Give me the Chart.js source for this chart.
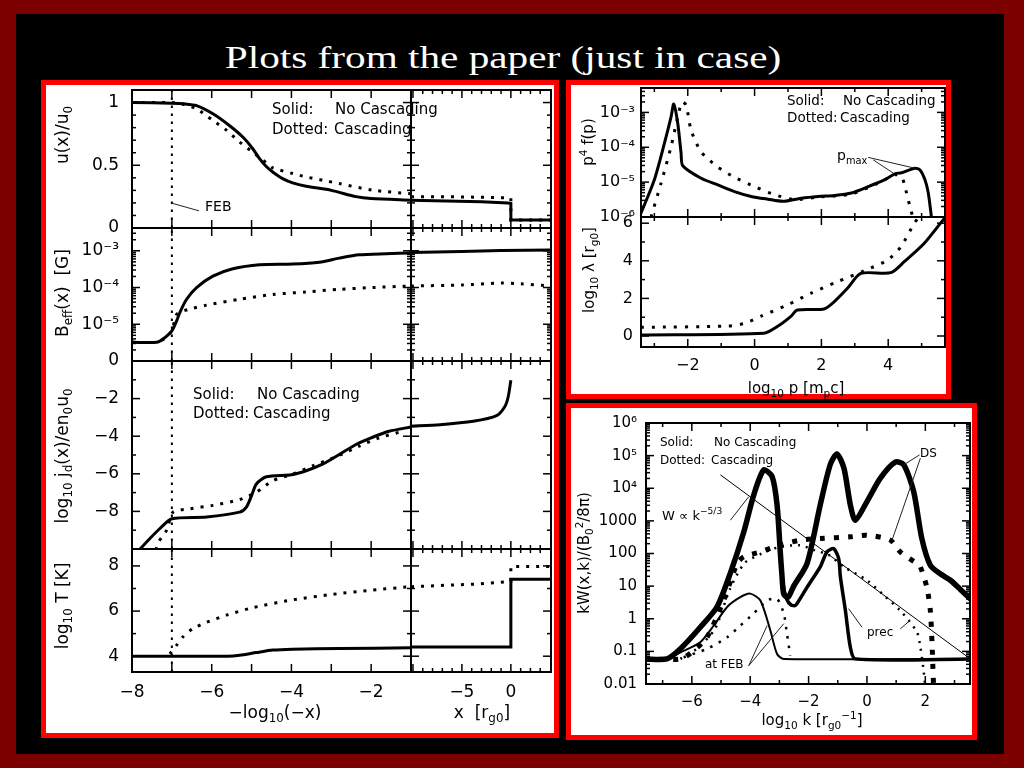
<!DOCTYPE html>
<html><head><meta charset="utf-8">
<script src="https://cdn.jsdelivr.net/npm/chart.js@4.4.1/dist/chart.umd.min.js"></script>
<style>
html,body{margin:0;padding:0;}
body{width:1024px;height:768px;background:#7d0000;position:relative;overflow:hidden;font-family:"DejaVu Sans",sans-serif;}
#inner{position:absolute;left:16px;top:14px;width:988px;height:740px;background:#000;}
#title{position:absolute;left:503px;top:57px;color:#fff;font-family:"Liberation Serif",serif;font-size:31px;white-space:nowrap;line-height:1;transform:translate(-50%,-50%) scaleX(1.33);}
.panel{position:absolute;background:#fff;border:5px solid #f00;box-sizing:border-box;}
canvas{position:absolute;}
.t{position:absolute;color:#000;white-space:pre;line-height:1;transform:translateY(-50%);}
.yt{position:absolute;color:#000;white-space:pre;font-size:17px;line-height:1;transform:translate(-50%,-50%) rotate(-90deg);}
.xt{position:absolute;color:#000;white-space:pre;font-size:17px;line-height:1;transform:translate(-50%,-50%);}
sub,sup{font-size:70%;line-height:0;}
</style></head>
<body>
<div id="inner"></div>
<div id="title">Plots from the paper (just in case)</div>
<div class="panel" style="left:41px;top:80px;width:518px;height:658px;"></div>
<div class="panel" style="left:566px;top:80px;width:385px;height:319px;"></div>
<div class="panel" style="left:566px;top:403px;width:411px;height:337px;"></div>
<script>
// ---------------- DATA ----------------
const FEB_X = -7;
// u(x)/u0 : left column (x = -log10(-x)), right column (x in r_g0)
const uSolL_x = [-8, -7, -6.7, -6.38, -5.97, -5.55, -5.22, -4.97, -4.8, -4.63, -4.47, -4.22, -3.97, -3.63, -3.0, -2.38, -2.0, -1.0];
const uSolL_y = [1.0, 0.995, 0.99, 0.975, 0.91, 0.815, 0.725, 0.632, 0.553, 0.49, 0.447, 0.394, 0.36, 0.333, 0.30, 0.25, 0.235, 0.222];
const uDotL_x = [-8, -7, -6.7, -6.38, -5.97, -5.63, -5.3, -4.97, -4.63, -4.47, -3.97, -3.63, -3.22, -2.8, -1.97, -1.0];
const uDotL_y = [1.0, 1.0, 0.985, 0.95, 0.857, 0.78, 0.685, 0.605, 0.52, 0.48, 0.434, 0.407, 0.381, 0.354, 0.302, 0.272];
const uSolR_x = [-10.2, -3, -0.3, 0, 0, 4.1];
const uSolR_y = [0.222, 0.21, 0.2, 0.196, 0.063, 0.063];
const uDotR_x = [-10.2, -5, -0.3, 0, 0, 4.1];
const uDotR_y = [0.25, 0.248, 0.24, 0.238, 0.063, 0.063];
// log10 B_eff [G]
const bSolL_x = [-8, -7.38, -7.22, -7.0, -6.88, -6.8, -6.63, -6.38, -5.97, -5.47, -4.8, -3.97, -3.3, -2.8, -2.3, -1.63, -1.0];
const bSolL_y = [-5.49, -5.49, -5.4, -5.18, -4.91, -4.68, -4.32, -4.0, -3.69, -3.49, -3.38, -3.36, -3.31, -3.2, -3.11, -3.08, -3.06];
const bDotL_x = [-8, -7.38, -7.2, -7.0, -6.88, -6.6, -6.13, -5.3, -4.47, -3.63, -2.8, -1.97, -1.0];
const bDotL_y = [-5.49, -5.49, -5.4, -5.18, -4.73, -4.6, -4.48, -4.32, -4.19, -4.12, -4.05, -4.0, -3.96];
const bSolR_x = [-10.2, -5, -1, 4.1];
const bSolR_y = [-3.05, -3.02, -2.99, -2.98];
const bDotR_x = [-10.2, -5, -1, 1, 4.1];
const bDotR_y = [-3.96, -3.93, -3.88, -3.9, -3.96];
// log10 j_d/(e n0 u0)
const jSolL_x = [-7.82, -7.55, -7.3, -7.0, -6.13, -5.3, -5.13, -5.0, -4.88, -4.63, -4.0, -3.63, -3.22, -2.8, -2.38, -2.0, -1.55, -1.0];
const jSolL_y = [-10.05, -9.44, -8.91, -8.39, -8.3, -8.04, -7.77, -7.16, -6.54, -6.16, -6.05, -5.84, -5.49, -4.97, -4.44, -4.09, -3.74, -3.51];
const jDotL_x = [-7.4, -7.33, -7.13, -6.97, -6.55, -5.97, -5.3, -4.88, -4.47, -3.97, -3.47, -2.8, -2.3, -1.8, -1.3];
const jDotL_y = [-10.05, -9.62, -9.0, -8.04, -7.86, -7.68, -7.37, -6.98, -6.37, -6.02, -5.58, -5.02, -4.53, -4.09, -3.79];
const jSolR_x = [-10.2, -7.24, -3.85, -1.46, -0.61, -0.27, 0];
const jSolR_y = [-3.47, -3.39, -3.21, -2.91, -2.42, -1.9, -1.02];
// log10 T [K]
const tSolL_x = [-8, -5.6, -5.3, -4.88, -4.47, -3.97, -2.8, -1.0];
const tSolL_y = [4.0, 4.0, 4.04, 4.16, 4.27, 4.31, 4.34, 4.37];
const tDotL_x = [-7.05, -6.88, -6.72, -6.47, -6.13, -5.63, -4.97, -4.0, -2.97, -1.97, -1.0];
const tDotL_y = [4.1, 4.49, 4.86, 5.23, 5.5, 5.82, 6.15, 6.49, 6.74, 6.93, 7.08];
const tSolR_x = [-10.2, 0, 0, 4.1];
const tSolR_y = [4.41, 4.41, 7.41, 7.41];
const tDotR_x = [-10.2, -3.85, -0.44, 0, 0, 4.1];
const tDotR_y = [7.08, 7.19, 7.3, 7.32, 7.97, 7.97];
// log10 p^4 f(p) vs log10 p
const fSol_x = [-3.4, -3.0, -2.7, -2.5, -2.42, -2.3, -2.2, -2.15, -1.6, -1.1, -0.6, -0.1, 0.4, 0.85, 1.4, 1.9, 2.4, 2.9, 3.4, 3.9, 4.2, 4.4, 4.8, 4.95, 5.1, 5.2, 5.3];
const fSol_y = [-5.89, -4.93, -3.89, -3.13, -2.76, -3.31, -4.17, -4.53, -4.89, -5.08, -5.27, -5.41, -5.49, -5.55, -5.46, -5.41, -5.38, -5.31, -5.13, -4.93, -4.76, -4.73, -4.6, -4.65, -4.93, -5.31, -6.05];
const fDot_x = [-3.1, -2.8, -2.5, -2.3, -2.17, -2.05, -1.9, -1.6, -1.1, -0.6, 0.0, 0.6, 1.2, 1.9, 2.9, 3.7, 4.2, 4.4, 4.5, 4.65, 4.75];
const fDot_y = [-6.0, -5.03, -3.98, -3.13, -2.7, -2.79, -3.51, -4.13, -4.57, -4.86, -5.13, -5.36, -5.5, -5.43, -5.34, -5.03, -4.79, -4.84, -5.13, -5.7, -6.05];
// log10 lambda [r_g0]
const lSol_x = [-3.4, 0.28, 0.68, 1.08, 1.28, 2.08, 2.38, 2.78, 3.18, 4.08, 4.48, 5.08, 5.68];
const lSol_y = [0.05, 0.14, 0.5, 1.03, 1.38, 1.44, 1.82, 2.54, 3.33, 3.37, 3.95, 4.93, 6.26];
const lDot_x = [-3.4, -0.8, -0.3, 0.2, 0.98, 1.68, 2.48, 3.28, 3.98, 4.38, 4.78, 4.95];
const lDot_y = [0.46, 0.53, 0.67, 1.06, 1.65, 2.27, 2.89, 3.47, 4.04, 4.75, 6.0, 6.4];
// log10 kW(x,k)/(B0^2/8pi) vs log10 k
const wDsSol_x = [-7.6, -6.85, -6.39, -5.71, -5.14, -4.68, -4.22, -3.88, -3.54, -3.25, -3.08, -2.97, -2.91, -2.85, -2.7, -2.51, -2.05, -1.6, -1.26, -1.03, -0.79, -0.57, -0.4, 0, 0.46, 0.97, 1.26, 1.6, 1.88, 2.17, 2.51, 2.86, 3.2, 3.6];
const wDsSol_y = [-1.23, -1.23, -0.92, -0.26, 0.36, 1.4, 2.66, 3.79, 4.56, 4.36, 3.49, 2.05, 1.3, 0.75, 0.66, 1.0, 1.7, 3.49, 4.72, 5.05, 4.62, 3.49, 3.02, 3.59, 4.31, 4.8, 4.72, 3.9, 2.46, 1.64, 1.38, 1.18, 0.9, 0.56];
const wPrecSol_x = [-7.6, -6.85, -6.39, -5.71, -5.14, -4.68, -4.22, -3.88, -3.54, -3.25, -3.08, -2.97, -2.88, -2.75, -2.6, -2.45, -2.3, -2.05, -1.6, -1.37, -1.14, -0.97, -0.91, -0.74, -0.57, -0.4, 3.6];
const wPrecSol_y = [-1.23, -1.23, -0.92, -0.26, 0.36, 1.4, 2.66, 3.79, 4.56, 4.36, 3.49, 2.05, 1.1, 0.6, 0.42, 0.41, 0.6, 0.97, 1.59, 2.05, 2.15, 1.85, 1.28, 0.26, -0.87, -1.23, -1.23];
const wDsDot_x = [-7.6, -6.39, -5.94, -5.48, -4.91, -4.45, -4.22, -3.65, -2.97, -2.28, -1.6, -0.57, 0, 0.8, 1.14, 1.71, 1.83, 2.05, 2.17, 2.23, 2.28, 2.32];
const wDsDot_y = [-1.23, -1.23, -0.98, -0.57, 0.56, 1.69, 1.9, 2.05, 2.26, 2.41, 2.46, 2.51, 2.56, 2.41, 2.05, 1.69, 1.59, 0.97, 0.26, -0.76, -2.0, -2.5];
const wPrecDot_x = [-6.39, -5.8, -5.2, -4.7, -4.2, -3.6, -3.0, -2.3, -1.8, -1.3, -0.79, 0, 0.6, 1.14, 1.71, 1.83, 1.94, 2.02];
const wPrecDot_y = [-1.23, -0.9, -0.3, 0.9, 1.7, 2.0, 2.2, 2.25, 2.1, 1.95, 1.59, 1.18, 0.7, 0.25, -0.4, -0.87, -1.59, -2.3];
const wFebSol_x = [-7.6, -6.85, -6.39, -5.71, -5.25, -4.79, -4.34, -4.0, -3.65, -3.31, -3.08, -2.85, 3.6];
const wFebSol_y = [-1.23, -1.23, -1.03, -0.72, -0.21, 0.36, 0.66, 0.77, 0.56, -0.36, -1.08, -1.23, -1.23];
const wFebDot_x = [-6.28, -5.48, -4.79, -4.34, -3.88, -3.42, -3.08, -2.85, -2.74, -2.63];
const wFebDot_y = [-1.18, -0.92, -0.57, -0.21, 0.16, 0.56, 0.61, 0.16, -0.46, -1.13];
const wSlope_x = [-5.02, 3.54];
const wSlope_y = [4.41, -1.23];
// tick label sets
const leftXLabels = [-8, -6, -4, -2];
const rightXLabels = [-5, 0];
const uYLabels = [0, 0.5, 1];
const bYLabels = [-6, -5, -4, -3];
const jYLabels = [-8, -6, -4, -2];
const tYLabels = [4, 6, 8];
const pXLabels = [-2, 0, 2, 4];
const fYLabels = [-6, -5, -4, -3];
const lYLabels = [0, 2, 4, 6];
const kXLabels = [-6, -4, -2, 0, 2];
const wYLabels = [-2, -1, 0, 1, 2, 3, 4, 5, 6];
const supTxt = {'-6':'10⁻⁶','-5':'10⁻⁵','-4':'10⁻⁴','-3':'10⁻³'};
const bTxt = {'-6':'0','-5':'10⁻⁵','-4':'10⁻⁴','-3':'10⁻³'};
const wTxt = {'-2':'0.01','-1':'0.1','0':'1','1':'10','2':'100','3':'1000','4':'10⁴','5':'10⁵','6':'10⁶'};

// ---------------- HELPERS ----------------
const FONT = 'DejaVu Sans';
const range = (a,b,s)=>{const r=[];for(let v=a;v<=b+1e-9;v+=s)r.push(+v.toFixed(4));return r;};
const logMinor = (d0,d1)=>{const r=[];for(let d=d0;d<=d1;d++)for(let k=2;k<=9;k++)r.push(d+Math.log10(k));return r;};
const fmtNum = v => (v<0?'−':'')+Math.abs(v);
const pts = (xs,ys)=>xs.map((x,i)=>({x, y:ys[i]}));
function ds(xs, ys, style){ return Object.assign({data:pts(xs,ys), borderColor:'#000', backgroundColor:'#000', pointRadius:0, fill:false, tension:0, borderCapStyle:'butt'}, style); }
const SOL = {borderWidth:3, tension:0.25};
const DOT = {borderWidth:3, borderDash:[3,7], tension:0.25};
const STEP = {borderWidth:3};
const STEPDOT = {borderWidth:3, borderDash:[3,7]};
const febLine = (y0,y1)=>ds([FEB_X,FEB_X],[y0,y1],{borderWidth:2, borderDash:[2.5,5.5]});

function frameTicks(f){ return {id:'frameTicks', afterDatasetsDraw(chart){
  const {ctx, chartArea:a} = chart; const xs = chart.scales.x, ys = chart.scales.y;
  ctx.save(); ctx.strokeStyle='#000'; ctx.lineWidth=1.5;
  const seg=(x1,y1,x2,y2)=>{ctx.beginPath();ctx.moveTo(x1,y1);ctx.lineTo(x2,y2);ctx.stroke();};
  const tx=(vals,len)=>(vals||[]).forEach(v=>{const p=xs.getPixelForValue(v); if(p<=a.left+1||p>=a.right-1)return; seg(p,a.bottom,p,a.bottom-len); seg(p,a.top,p,a.top+len);});
  const ty=(vals,len)=>(vals||[]).forEach(v=>{const p=ys.getPixelForValue(v); if(p<=a.top+1||p>=a.bottom-1)return; seg(a.left,p,a.left+len,p); seg(a.right,p,a.right-len,p);});
  tx(f.xMaj, f.maj||8); tx(f.xMin, f.min||4); ty(f.yMaj, f.maj||8); ty(f.yMin, f.min||4);
  ctx.lineWidth=2; ctx.strokeRect(a.left,a.top,a.width,a.height);
  ctx.restore();
}};}
function leaders(lines){ return {id:'leaders', afterDatasetsDraw(chart){
  const {ctx} = chart; const xs = chart.scales.x, ys = chart.scales.y;
  ctx.save(); ctx.strokeStyle='#222'; ctx.lineWidth=1;
  (lines||[]).forEach(l=>{ctx.beginPath();ctx.moveTo(xs.getPixelForValue(l[0]),ys.getPixelForValue(l[1]));ctx.lineTo(xs.getPixelForValue(l[2]),ys.getPixelForValue(l[3]));ctx.stroke();});
  ctx.restore();
}};}

function mk(o){
  const W = o.x1-o.x0+o.L+o.R, H = o.y1-o.y0+o.T+o.B;
  const cv = document.createElement('canvas');
  cv.width=W; cv.height=H;
  Object.assign(cv.style,{left:(o.x0-o.L)+'px', top:(o.y0-o.T)+'px', width:W+'px', height:H+'px'});
  document.body.appendChild(cv);
  const xShow = !!o.xLab, yShow = !!o.yLab;
  const fs = o.fs || 17;
  const zero = s=>{s.paddingLeft=0;s.paddingRight=0;s.paddingTop=0;s.paddingBottom=0;};
  return new Chart(cv, {type:'line', data:{datasets:o.ds},
    plugins:[leaders(o.leaders), frameTicks(o.frame)],
    options:{responsive:false, animation:false, devicePixelRatio:1, events:[],
      layout:{padding:{left:yShow?0:o.L, right:o.R, top:o.T, bottom:xShow?0:o.B}},
      plugins:{legend:{display:false}, tooltip:{enabled:false}},
      scales:{
        x:{type:'linear', min:o.xr[0], max:o.xr[1], display:xShow,
          grid:{display:false, drawTicks:false}, border:{display:false},
          ticks:{color:'#000', font:{family:FONT,size:fs}, padding:o.xpad||10, autoSkip:false, maxRotation:0, callback:v=>fmtNum(v)},
          afterBuildTicks:s=>{ if(xShow) s.ticks=o.xLab.map(v=>({value:v})); },
          afterFit:s=>{ if(xShow) s.height=o.B; zero(s); }},
        y:{type:'linear', min:o.yr[0], max:o.yr[1], display:yShow,
          grid:{display:false, drawTicks:false}, border:{display:false},
          ticks:{color:'#000', font:{family:FONT,size:fs}, padding:o.ypad||13, autoSkip:false, callback:v=>o.yFmt?o.yFmt(v):fmtNum(v)},
          afterBuildTicks:s=>{ if(yShow) s.ticks=o.yLab.map(v=>({value:v})); },
          afterFit:s=>{ if(yShow) s.width=o.L; zero(s); }}
      }}});
}

// ---------------- LEFT PANEL ----------------
const LX0=132, LX1=411, RX1=551;
const LXR=[-8,-1], RXR=[-10.2,4.1];
const lxMaj = range(-8,-1,1);
const rxMaj = [-10,-5,0], rxMin = range(-9,4,1).filter(v=>v%5!==0);
const rows = {u:[90,228,[0,1.1]], B:[228,361,[-6,-2.38]], j:[361,549,[-10,0]], T:[549,672,[3.3,8.75]]};
const uFrameY = {yMaj:[0,0.5,1], yMin:range(0.1,1.0,0.1).filter(v=>Math.abs(v-0.5)>1e-6&&Math.abs(v-1)>1e-6)};
const bFrameY = {yMaj:[-6,-5,-4,-3], yMin:logMinor(-6,-3)};
const jFrameY = {yMaj:range(-10,0,2), yMin:range(-9,-1,2)};
const tFrameY = {yMaj:[4,6,8], yMin:[5,7]};

// u row
mk({x0:LX0,x1:LX1,y0:rows.u[0],y1:rows.u[1],L:90,R:2,T:12,B:12,xr:LXR,yr:rows.u[2],yLab:uYLabels,
  ds:[ds(uSolL_x,uSolL_y,SOL), ds(uDotL_x,uDotL_y,DOT), febLine(0,1.1)],
  frame:Object.assign({xMaj:lxMaj},uFrameY), leaders:[[-6.98,0.196,-6.32,0.137]]});
mk({x0:LX1,x1:RX1,y0:rows.u[0],y1:rows.u[1],L:4,R:6,T:12,B:12,xr:RXR,yr:rows.u[2],
  ds:[ds(uSolR_x,uSolR_y,STEP), ds(uDotR_x,uDotR_y,STEPDOT)],
  frame:Object.assign({xMaj:rxMaj,xMin:rxMin},uFrameY)});
// B row
mk({x0:LX0,x1:LX1,y0:rows.B[0],y1:rows.B[1],L:90,R:2,T:12,B:12,xr:LXR,yr:rows.B[2],yLab:bYLabels,yFmt:v=>bTxt[String(v)]||'',
  ds:[ds(bSolL_x,bSolL_y,SOL), ds(bDotL_x,bDotL_y,DOT), febLine(-6,-2.38)],
  frame:Object.assign({xMaj:lxMaj},bFrameY)});
mk({x0:LX1,x1:RX1,y0:rows.B[0],y1:rows.B[1],L:4,R:6,T:12,B:12,xr:RXR,yr:rows.B[2],
  ds:[ds(bSolR_x,bSolR_y,SOL), ds(bDotR_x,bDotR_y,DOT)],
  frame:Object.assign({xMaj:rxMaj,xMin:rxMin},bFrameY)});
// j row
mk({x0:LX0,x1:LX1,y0:rows.j[0],y1:rows.j[1],L:90,R:2,T:12,B:12,xr:LXR,yr:rows.j[2],yLab:jYLabels,
  ds:[ds(jSolL_x,jSolL_y,SOL), ds(jDotL_x,jDotL_y,DOT), febLine(-10,0)],
  frame:Object.assign({xMaj:lxMaj},jFrameY)});
mk({x0:LX1,x1:RX1,y0:rows.j[0],y1:rows.j[1],L:4,R:6,T:12,B:12,xr:RXR,yr:rows.j[2],
  ds:[ds(jSolR_x,jSolR_y,SOL)],
  frame:Object.assign({xMaj:rxMaj,xMin:rxMin},jFrameY)});
// T row
mk({x0:LX0,x1:LX1,y0:rows.T[0],y1:rows.T[1],L:90,R:2,T:12,B:30,xr:LXR,yr:rows.T[2],yLab:tYLabels,xLab:leftXLabels,
  ds:[ds(tSolL_x,tSolL_y,SOL), ds(tDotL_x,tDotL_y,DOT), febLine(3.3,8.75)],
  frame:Object.assign({xMaj:lxMaj},tFrameY)});
mk({x0:LX1,x1:RX1,y0:rows.T[0],y1:rows.T[1],L:4,R:6,T:12,B:30,xr:RXR,yr:rows.T[2],xLab:rightXLabels,
  ds:[ds(tSolR_x,tSolR_y,STEP), ds(tDotR_x,tDotR_y,STEPDOT)],
  frame:Object.assign({xMaj:rxMaj,xMin:rxMin},tFrameY)});

// ---------------- TOP RIGHT PANEL ----------------
const PXR=[-3.4,5.7];
const pxMaj=[-2,0,2,4], pxMin=[-3,-1,1,3,5];
mk({x0:641,x1:945,y0:88,y1:217,L:69,R:3,T:10,B:12,xr:PXR,yr:[-6,-2.3],yLab:fYLabels,yFmt:v=>supTxt[String(v)]||'',ypad:6,fs:16,
  ds:[ds(fSol_x,fSol_y,SOL), ds(fDot_x,fDot_y,{borderWidth:3,borderDash:[3,8],tension:0.25})],
  frame:{xMaj:pxMaj,xMin:pxMin,yMaj:[-6,-5,-4,-3],yMin:logMinor(-6,-3)},
  leaders:[[3.4,-4.29,4.8,-4.6],[3.55,-4.36,4.15,-4.74]]});
mk({x0:641,x1:945,y0:217,y1:347,L:69,R:3,T:12,B:30,xr:PXR,yr:[-0.585,6.33],yLab:lYLabels,xLab:pXLabels,ypad:8,xpad:9,fs:16,
  ds:[ds(lSol_x,lSol_y,SOL), ds(lDot_x,lDot_y,{borderWidth:3,borderDash:[3,8],tension:0.25})],
  frame:{xMaj:pxMaj,xMin:pxMin,yMaj:[0,2,4,6],yMin:[1,3,5]}});

// ---------------- BOTTOM RIGHT PANEL ----------------
mk({x0:646,x1:970,y0:423,y1:684,L:74,R:3,T:12,B:34,xr:[-7.57,3.53],yr:[-2,6],yLab:wYLabels,xLab:kXLabels,yFmt:v=>wTxt[String(v)]||'',ypad:9,xpad:9,fs:15,
  ds:[
    ds(wSlope_x,wSlope_y,{borderWidth:1}),
    ds(wFebSol_x,wFebSol_y,{borderWidth:2,tension:0.25}),
    ds(wFebDot_x,wFebDot_y,{borderWidth:2.5,borderDash:[2.5,7],tension:0.25}),
    ds(wPrecDot_x,wPrecDot_y,{borderWidth:2.5,borderDash:[2,6],tension:0.25}),
    ds(wPrecSol_x,wPrecSol_y,{borderWidth:3.5,tension:0.25}),
    ds(wDsDot_x,wDsDot_y,{borderWidth:5,borderDash:[5,9],tension:0.25}),
    ds(wDsSol_x,wDsSol_y,{borderWidth:5.5,tension:0.25})
  ],
  frame:{xMaj:[-6,-4,-2,0,2],xMin:[-7,-5,-3,-1,1,3],yMaj:range(-2,6,1),yMin:logMinor(-2,5)},
  leaders:[[-4.68,3.02,-4.05,3.74],[1.8,5.02,1.26,4.72],[1.83,4.92,0.86,2.41],
           [-0.17,-0.26,-0.63,0.31],[1.14,-0.31,1.48,-0.05],
           [-4.05,-1.44,-3.42,-0.21],[-4.05,-1.44,-2.85,-0.15]]});

// ---------------- TEXT ----------------
function txt(html, x, y, size, cls){ const d=document.createElement('div'); d.className=cls||'t'; d.innerHTML=html; d.style.left=x+'px'; d.style.top=y+'px'; if(size) d.style.fontSize=size+'px'; document.body.appendChild(d); }
// legends
txt('Solid:',272,109,15); txt('No Cascading',335,109,15); txt('Dotted:',272,129,15); txt('Cascading',334,129,15);
txt('Solid:',193,394,15); txt('No Cascading',257,394,15); txt('Dotted:',193,413,15); txt('Cascading',253,413,15);
txt('Solid:',787,101,13.5); txt('No Cascading',843,101,13.5); txt('Dotted:',787,118,13.5); txt('Cascading',840,118,13.5);
txt('Solid:',660,442,12); txt('No Cascading',714,442,12); txt('Dotted:',660,460,12); txt('Cascading',711,460,12);
// annotations
txt('FEB',205,206,14);
txt('p<sub>max</sub>',837,155,14);
txt('DS',920,453,12);
txt('W ∝ k<sup>−5/3</sup>',662,515,13);
txt('prec',867,632,12);
txt('at FEB',705,664,12);
// axis titles
txt('u(x)/u<sub>0</sub>',62,135,null,'yt');
txt('B<sub>eff</sub>(x)  [G]',62,293,null,'yt');
txt('log<sub>10</sub> j<sub>d</sub>(x)/en<sub>0</sub>u<sub>0</sub>',62,456,null,'yt');
txt('log<sub>10</sub> T [K]',62,606,null,'yt');
txt('−log<sub>10</sub>(−x)',275,712,null,'xt');
txt('x  [r<sub>g0</sub>]',482,712,null,'xt');
txt('p<sup>4</sup> f(p)',588,142,15,'yt');
txt('log<sub>10</sub> λ [r<sub>g0</sub>]',589,270,15,'yt');
txt('log<sub>10</sub> p [m<sub>p</sub>c]',796,388,15,'xt');
txt('kW(x,k)/(B<sub>0</sub><sup>2</sup>/8π)',584,553,15,'yt');
txt('log<sub>10</sub> k [r<sub>g0</sub><sup>−1</sup>]',812,720,15,'xt');
</script>
</body></html>
